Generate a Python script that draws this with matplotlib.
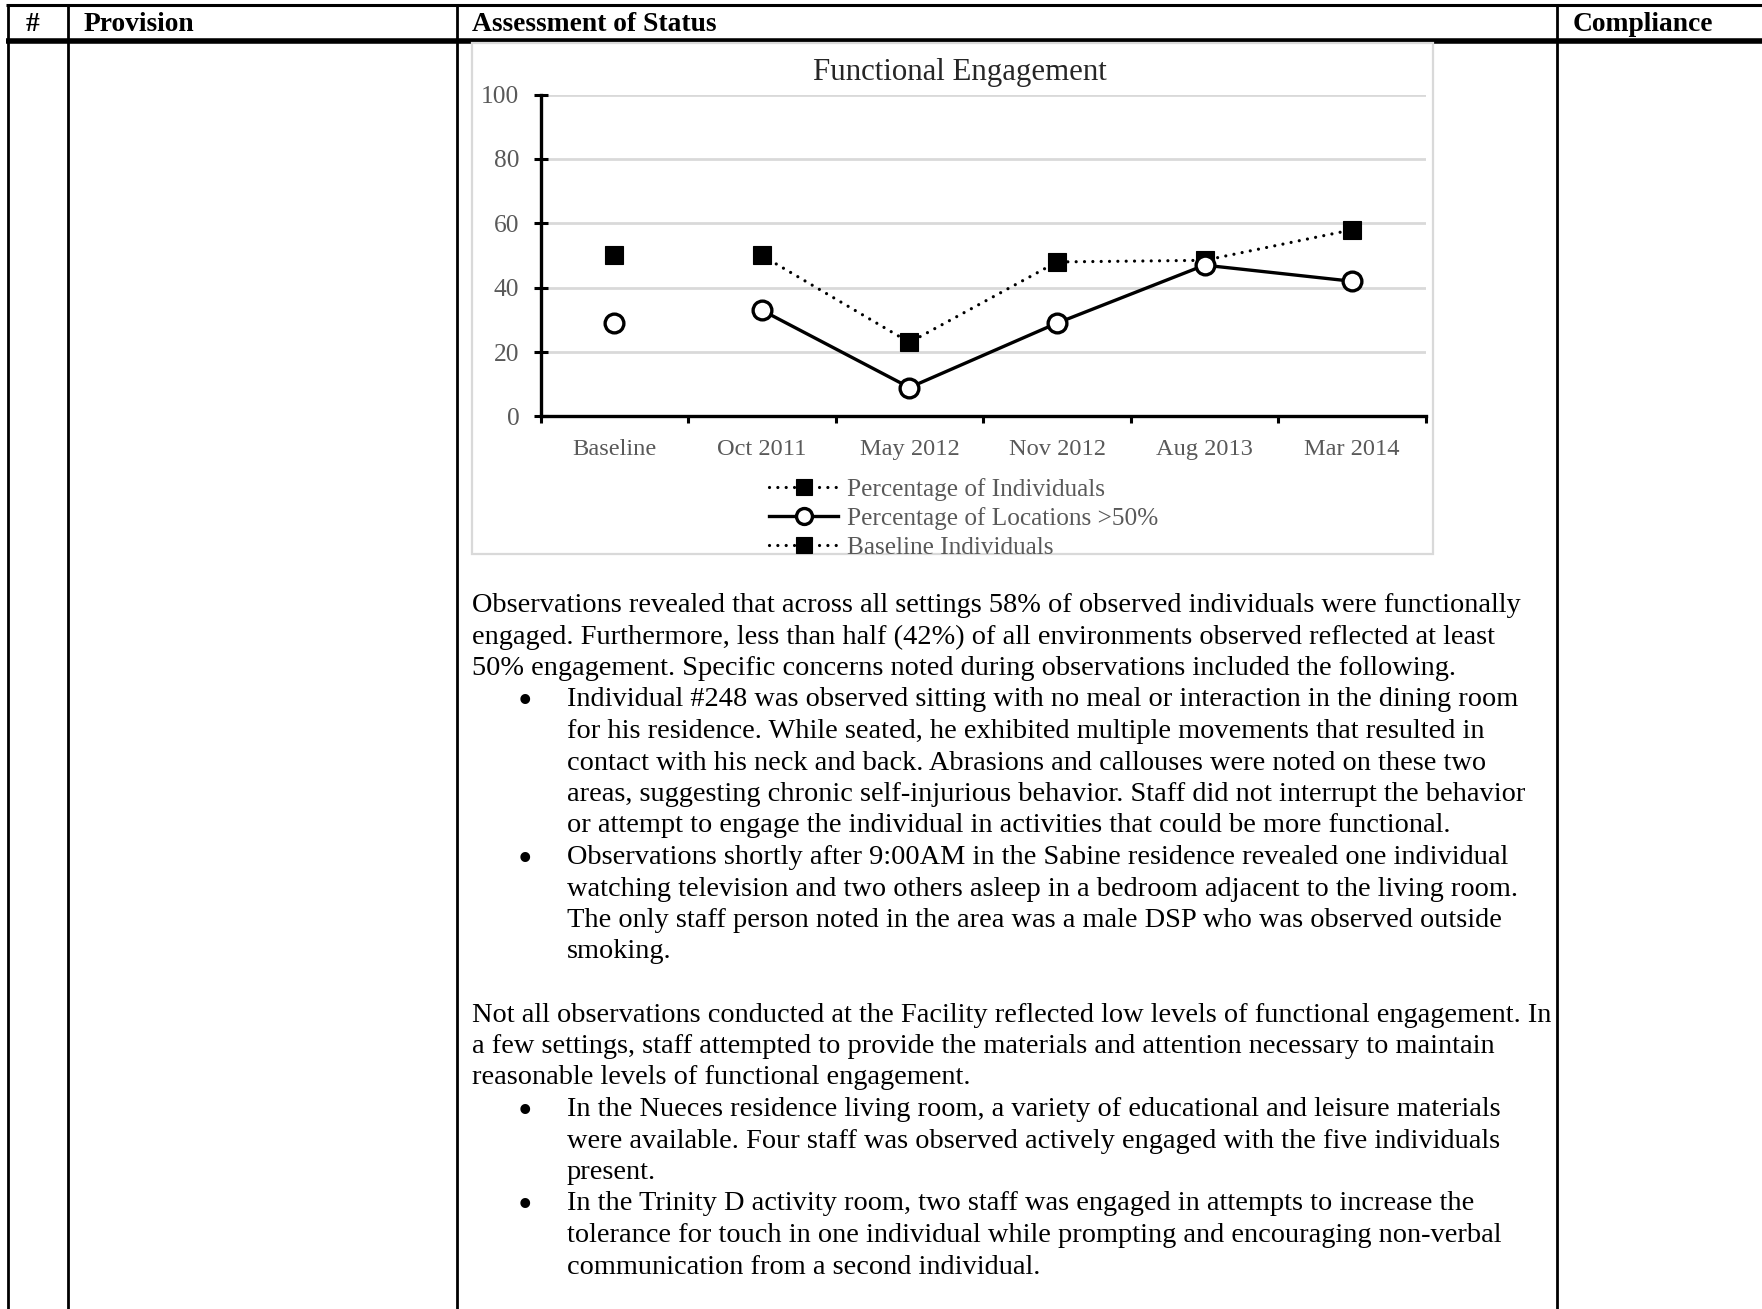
import numpy as np
import matplotlib
matplotlib.use("Agg")
import matplotlib.pyplot as plt
from matplotlib.lines import Line2D
from matplotlib.patches import Rectangle

# ---- data ----
categories = ["Baseline", "Oct 2011", "May 2012", "Nov 2012", "Aug 2013", "Mar 2014"]
pct_individuals = [np.nan, 50, 23, 48, 48.5, 58]
pct_locations = [np.nan, 33, 9, 29, 47, 42]
baseline_individuals = [50, np.nan, np.nan, np.nan, np.nan, np.nan]
baseline_locations = [29, np.nan, np.nan, np.nan, np.nan, np.nan]
y_ticks = [0, 20, 40, 60, 80, 100]
series_labels = ["Percentage of Individuals", "Percentage of Locations >50%", "Baseline Individuals"]

header_labels = ["#", "Provision", "Assessment of Status", "Compliance"]

para1 = [
    "Observations revealed that across all settings 58% of observed individuals were functionally",
    "engaged. Furthermore, less than half (42%) of all environments observed reflected at least",
    "50% engagement. Specific concerns noted during observations included the following.",
]
bullets1 = [
    ["Individual #248 was observed sitting with no meal or interaction in the dining room",
     "for his residence. While seated, he exhibited multiple movements that resulted in",
     "contact with his neck and back. Abrasions and callouses were noted on these two",
     "areas, suggesting chronic self-injurious behavior. Staff did not interrupt the behavior",
     "or attempt to engage the individual in activities that could be more functional."],
    ["Observations shortly after 9:00AM in the Sabine residence revealed one individual",
     "watching television and two others asleep in a bedroom adjacent to the living room.",
     "The only staff person noted in the area was a male DSP who was observed outside",
     "smoking."],
]
para2 = [
    "Not all observations conducted at the Facility reflected low levels of functional engagement. In",
    "a few settings, staff attempted to provide the materials and attention necessary to maintain",
    "reasonable levels of functional engagement.",
]
bullets2 = [
    ["In the Nueces residence living room, a variety of educational and leisure materials",
     "were available. Four staff was observed actively engaged with the five individuals",
     "present."],
    ["In the Trinity D activity room, two staff was engaged in attempts to increase the",
     "tolerance for touch in one individual while prompting and encouraging non-verbal",
     "communication from a second individual."],
]

# ---- page geometry (pixels) ----
W, H = 1762, 1309
DPI = 100
fig = plt.figure(figsize=(W / DPI, H / DPI), dpi=DPI)
fig.patch.set_facecolor("white")
renderer = fig.canvas.get_renderer()

SERIF = ["Liberation Serif", "DejaVu Serif"]
GRAY_TXT = "#595959"


def fx(x):
    return x / W


def fy(y):
    return 1 - y / H


def fit_size(text, target_px, weight="normal", base=20):
    t = fig.text(0, 0, text, fontsize=base, family=SERIF, weight=weight)
    w = t.get_window_extent(renderer).width
    t.remove()
    return base * target_px / w


def hline(x0, x1, y, lw):
    fig.add_artist(Line2D([fx(x0), fx(x1)], [fy(y), fy(y)], color="black", lw=lw,
                          transform=fig.transFigure, solid_capstyle="butt"))


def vline(x, y0, y1, lw):
    fig.add_artist(Line2D([fx(x), fx(x)], [fy(y0), fy(y1)], color="black", lw=lw,
                          transform=fig.transFigure, solid_capstyle="butt"))


# ---- table frame ----
hline(6, W, 5, 2.2)
hline(6, W, 41, 4.0)
for xv in (8, 68, 457, 1557):
    vline(xv, 4, H, 2.0)

hdr_size = fit_size("Compliance", 141, weight="bold")
hdr_x = [32, 84, 472, 1573]
for i, lab in enumerate(header_labels):
    fig.text(fx(hdr_x[i]), fy(31), lab, fontsize=hdr_size, family=SERIF, weight="bold",
             ha="center" if i == 0 else "left", va="baseline", color="black")

# ---- chart box ----
fig.add_artist(Rectangle((fx(472), fy(554)), fx(1433) - fx(472), fy(43) - fy(554),
                         transform=fig.transFigure, fill=False, edgecolor="#d9d9d9",
                         lw=1.6, zorder=5))

title_size = fit_size("Functional Engagement", 294)
fig.text(fx(960), fy(80), "Functional Engagement", fontsize=title_size, family=SERIF,
         ha="center", va="baseline", color="#262626")

ax_l, ax_r, ax_t, ax_b = 540.5, 1426, 94.5, 416.5
ax = fig.add_axes([fx(ax_l), fy(ax_b), fx(ax_r) - fx(ax_l), fy(ax_t) - fy(ax_b)])
ax.set_facecolor("none")
x = np.arange(len(categories))
ax.set_xlim(-0.5, len(categories) - 0.5)
ax.set_ylim(0, 100)

for yv in y_ticks[1:]:
    ax.axhline(yv, color="#d9d9d9", lw=2.0, zorder=0)

for s in ("top", "right"):
    ax.spines[s].set_visible(False)
for s in ("left", "bottom"):
    ax.spines[s].set_linewidth(2.4)
    ax.spines[s].set_color("black")
    ax.spines[s].set_capstyle("projecting")

tick_size = fit_size("Baseline", 84)
ytick_size = fit_size("100", 38)
ax.set_yticks(y_ticks)
ax.set_yticklabels([str(v) for v in y_ticks], fontsize=ytick_size, family=SERIF, color=GRAY_TXT)
ax.tick_params(axis="y", direction="inout", length=9.5, width=2.2, pad=10.5, color="black")

ax.set_xticks(x)
ax.set_xticklabels(categories, fontsize=tick_size, family=SERIF, color=GRAY_TXT)
ax.set_xticks(np.arange(-0.5, len(categories)), minor=True)
ax.tick_params(axis="x", which="major", length=0, pad=16)
ax.tick_params(axis="x", which="minor", direction="out", length=5, width=2.2, color="black")

dotted = (0, (0.01, 2.6))
sq_kw = dict(marker="s", markersize=13, markerfacecolor="black", markeredgecolor="black",
             markeredgewidth=0.8)
ci_kw = dict(marker="o", markersize=13.5, markerfacecolor="white", markeredgecolor="black",
             markeredgewidth=2.4)

h1, = ax.plot(x, pct_individuals, color="black", lw=2.3, linestyle=dotted,
              dash_capstyle="round", zorder=3, clip_on=False, **sq_kw)
h3, = ax.plot(x, baseline_individuals, color="black", lw=2.3, linestyle=dotted,
              dash_capstyle="round", zorder=3, clip_on=False, **sq_kw)
h2, = ax.plot(x, pct_locations, color="black", lw=2.4, linestyle="-", zorder=4,
              clip_on=False, **ci_kw)
ax.plot(x, baseline_locations, color="black", lw=2.4, linestyle="-", zorder=4,
        clip_on=False, **ci_kw)

leg_size = fit_size("Percentage of Individuals", 258)
leg = fig.legend([h1, h2, h3], series_labels, loc="upper left",
                 bbox_to_anchor=(fx(769), fy(478)), frameon=False,
                 prop={"family": SERIF, "size": leg_size}, labelcolor=GRAY_TXT,
                 handlelength=2.75, handletextpad=0.35, labelspacing=0.24,
                 borderpad=0, borderaxespad=0, markerscale=0.85)

# ---- body text ----
body_size = fit_size(para1[0], 1050)
LEFT = 472
BULLET_X = 525
INDENT = 567
LINE = 31.5
y0 = 612


def put(xpix, line_idx, s):
    fig.text(fx(xpix), fy(y0 + LINE * line_idx), s, fontsize=body_size, family=SERIF,
             ha="left", va="baseline", color="black")


def put_bullet(line_idx):
    fig.text(fx(BULLET_X), fy(y0 + LINE * line_idx + 7), "\u2022", fontsize=body_size * 1.45,
             family=SERIF, ha="center", va="baseline", color="black")


i = 0
for s in para1:
    put(LEFT, i, s)
    i += 1
for b in bullets1:
    put_bullet(i)
    for s in b:
        put(INDENT, i, s)
        i += 1
i += 1
for s in para2:
    put(LEFT, i, s)
    i += 1
for b in bullets2:
    put_bullet(i)
    for s in b:
        put(INDENT, i, s)
        i += 1

fig.savefig("out.png", dpi=DPI, facecolor="white")
